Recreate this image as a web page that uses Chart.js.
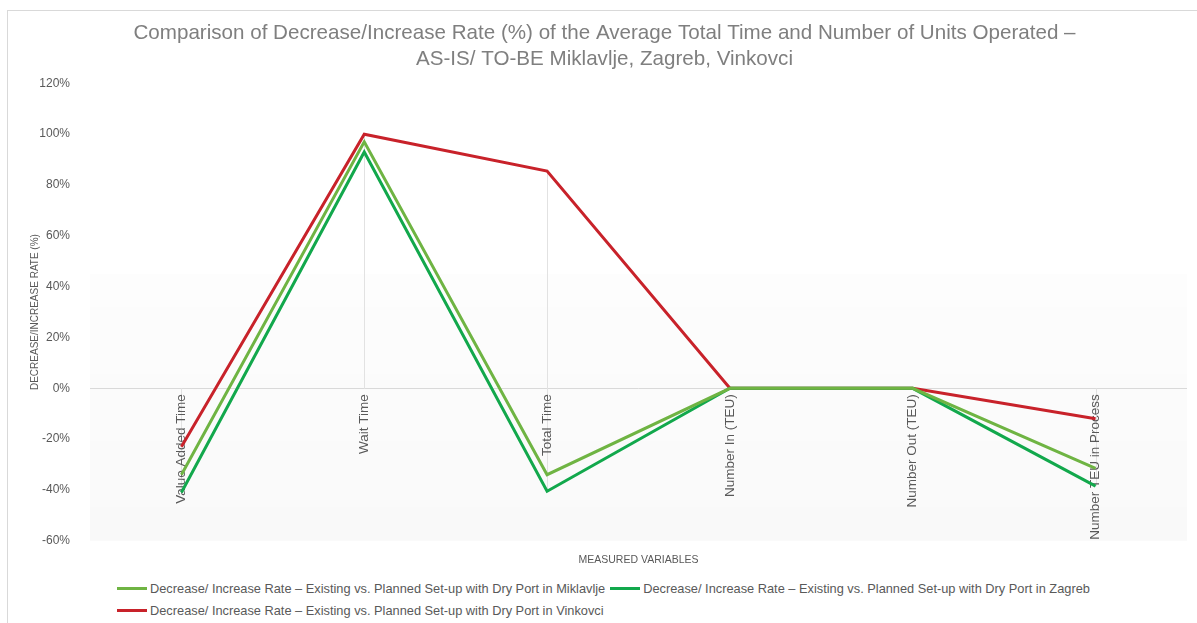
<!DOCTYPE html>
<html>
<head>
<meta charset="utf-8">
<title>Decrease/Increase Rate comparison</title>
<script src="https://cdn.jsdelivr.net/npm/chart.js@4.4.1/dist/chart.umd.min.js"></script>
<style>
  html, body { margin: 0; padding: 0; background: #fff; }
  #wrap { position: relative; width: 1197px; height: 623px; overflow: hidden; }
  #frame {
    position: absolute; left: 7px; top: 10px; right: -2px; bottom: -2px;
    border-top: 1px solid #d9d9d9; border-left: 1px solid #d9d9d9;
  }
  #chart { position: absolute; left: 0; top: 0; }
  #legend {
    position: absolute; left: 117px; top: 577px; width: 1000px;
    font: 12.8px "Liberation Sans", Arial, sans-serif; color: #595959;
  }
  #legend .item { display: inline-flex; align-items: center; height: 22px; margin-right: 5px; white-space: nowrap; }
  #legend .swatch { width: 30px; height: 3px; margin-right: 3px; }
</style>
</head>
<body>
<div id="wrap">
  <div id="frame"></div>
  <canvas id="chart" width="1197" height="568"></canvas>
  <div id="legend"></div>
</div>
<script>
const categories = ["Value Added Time", "Wait Time", "Total Time", "Number In (TEU)", "Number Out (TEU)", "Number TEU in Process"];

const miklavlje = [-34, 97, -34, 0, 0, -31.5];
const zagreb = [-41, 93, -40.5, 0, 0, -38.5];
const vinkovci = [-23, 100, 85.5, 0, 0, -12];

const seriesNames = [
  "Decrease/ Increase Rate \u2013 Existing vs. Planned Set-up with Dry Port in Miklavlje",
  "Decrease/ Increase Rate \u2013 Existing vs. Planned Set-up with Dry Port in Zagreb",
  "Decrease/ Increase Rate \u2013 Existing vs. Planned Set-up with Dry Port in Vinkovci"
];
const seriesColors = ["#6fb443", "#12a84c", "#c8222a"];

const yMin = -60, yMax = 120, yStep = 20;

const labelGrey = "#595959";

// faint grey wash over the lower half of the plot
const plotShade = {
  id: "plotShade",
  beforeDraw(chart) {
    const { ctx, chartArea: a, scales: { y } } = chart;
    const top = y.getPixelForValue(45);
    const g = ctx.createLinearGradient(0, top, 0, a.bottom);
    g.addColorStop(0, "rgba(0,0,0,0.008)");
    g.addColorStop(1, "rgba(0,0,0,0.025)");
    ctx.save();
    ctx.fillStyle = g;
    ctx.fillRect(a.left, top, a.right - a.left, a.bottom - top);
    ctx.restore();
  }
};

// drop lines: from the zero line to the furthest point of each category
const dropLines = {
  id: "dropLines",
  beforeDatasetsDraw(chart) {
    const { ctx, scales: { x, y } } = chart;
    ctx.save();
    ctx.strokeStyle = "#e2e2e2";
    ctx.lineWidth = 1;
    categories.forEach((c, i) => {
      const vals = chart.data.datasets.map(ds => ds.data[i]);
      const hi = Math.max(0, ...vals), lo = Math.min(0, ...vals);
      if (hi === lo) return;
      const px = Math.round(x.getPixelForValue(i)) + 0.5;
      ctx.beginPath();
      ctx.moveTo(px, y.getPixelForValue(hi));
      ctx.lineTo(px, y.getPixelForValue(lo));
      ctx.stroke();
    });
    ctx.restore();
  }
};

// category names hang down from the zero line, rotated
const categoryLabels = {
  id: "categoryLabels",
  beforeDatasetsDraw(chart) {
    const { ctx, scales: { x, y } } = chart;
    const y0 = y.getPixelForValue(0) + 6;
    ctx.save();
    ctx.font = '13.5px "Liberation Sans", Arial, sans-serif';
    ctx.fillStyle = labelGrey;
    ctx.textAlign = "right";
    ctx.textBaseline = "middle";
    categories.forEach((name, i) => {
      ctx.save();
      ctx.translate(x.getPixelForValue(i), y0);
      ctx.rotate(-Math.PI / 2);
      ctx.fillText(name, 0, 0);
      ctx.restore();
    });
    ctx.restore();
  }
};

const datasets = [miklavlje, zagreb, vinkovci].map((data, i) => ({
  label: seriesNames[i],
  data,
  borderColor: seriesColors[i],
  backgroundColor: seriesColors[i],
  borderWidth: 3,
  pointRadius: 0,
  tension: 0,
  fill: false
}));

const chart = new Chart(document.getElementById("chart"), {
  type: "line",
  data: { labels: categories, datasets },
  options: {
    responsive: false,
    animation: false,
    layout: { padding: { top: 10, left: 22, right: 10, bottom: 0 } },
    plugins: {
      legend: { display: false },
      tooltip: { enabled: false },
      title: {
        display: true,
        text: [
          "Comparison of Decrease/Increase Rate (%) of the Average Total Time and Number of Units Operated \u2013",
          "AS-IS/ TO-BE Miklavlje, Zagreb, Vinkovci"
        ],
        color: "#7f7f7f",
        font: { family: '"Liberation Sans", Arial, sans-serif', size: 20.6, weight: "normal", lineHeight: 1.27 },
        padding: { top: 10, bottom: 11 }
      }
    },
    scales: {
      x: {
        offset: true,
        border: { display: false },
        grid: { display: false },
        ticks: { display: false },
        title: {
          display: true,
          text: "MEASURED VARIABLES",
          color: labelGrey,
          font: { family: '"Liberation Sans", Arial, sans-serif', size: 10.5 },
          padding: { top: 5, bottom: 0 }
        }
      },
      y: {
        min: yMin,
        max: yMax,
        border: { display: false },
        grid: {
          drawTicks: false,
          color: ctx => (ctx.tick && ctx.tick.value === 0 ? "#d9d9d9" : "rgba(0,0,0,0)")
        },
        ticks: {
          stepSize: yStep,
          padding: 20,
          color: labelGrey,
          font: { family: '"Liberation Sans", Arial, sans-serif', size: 12 },
          callback: v => v + "%"
        },
        title: {
          display: true,
          text: "DECREASE/INCREASE RATE (%)",
          color: labelGrey,
          font: { family: '"Liberation Sans", Arial, sans-serif', size: 10 },
          padding: { top: 7, bottom: 2 }
        },
        // keep the axis band narrow so the plot starts close to the labels
        afterFit(scale) { scale.width = 68; }
      }
    }
  },
  plugins: [plotShade, dropLines, categoryLabels]
});

// legend as html below the canvas, built from the chart's datasets
const legendEl = document.getElementById("legend");
chart.data.datasets.forEach(ds => {
  const item = document.createElement("span");
  item.className = "item";
  item.innerHTML = `<span class="swatch" style="background:${ds.borderColor}"></span><span>${ds.label}</span>`;
  legendEl.appendChild(item);
});
</script>
</body>
</html>
